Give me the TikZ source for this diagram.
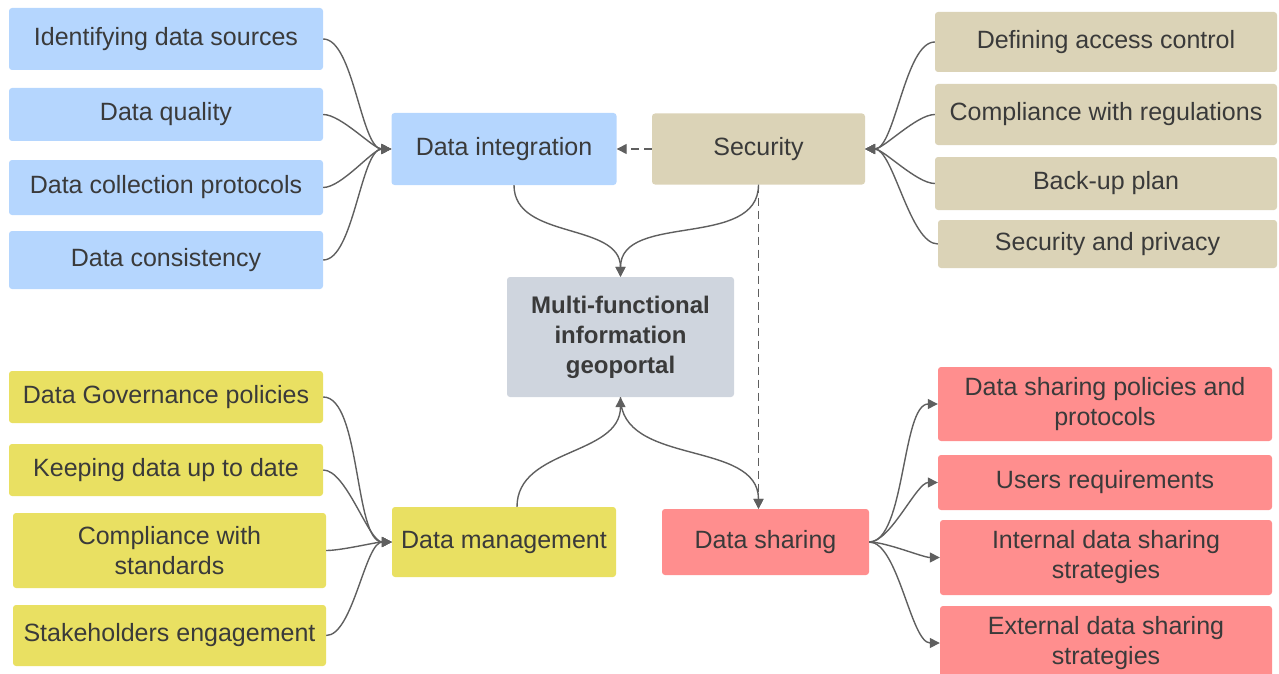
\documentclass[tikz,border=0pt]{standalone}
\usepackage{fontspec}
\setmainfont{Liberation Sans}
\usetikzlibrary{arrows.meta}
\definecolor{inkgray}{HTML}{3A3A3A}
\definecolor{linegray}{HTML}{5F5F5F}
\definecolor{blueFill}{HTML}{B5D6FE}
\definecolor{tanFill}{HTML}{DBD3B7}
\definecolor{coreFill}{HTML}{CFD5DE}
\definecolor{yellowFill}{HTML}{E9E062}
\definecolor{redFill}{HTML}{FF8E8E}
\tikzset{
  box/.style={rounded corners=3pt, inner sep=0pt, align=center, text=inkgray,
    font=\fontsize{25}{30}\selectfont},
  bluebox/.style={box, fill=blueFill},
  tanbox/.style={box, fill=tanFill},
  yellowbox/.style={box, fill=yellowFill},
  redbox/.style={box, fill=redFill},
  corebox/.style={box, fill=coreFill, font=\fontsize{24}{30}\selectfont\bfseries},
  link/.style={draw=linegray, line width=1.4pt, -{Triangle[length=10pt,width=10pt]}},
  dashlink/.style={link, dash pattern=on 8pt off 5pt},
  fan/.style={looseness=0.6},
}
\begin{document}
\begin{tikzpicture}[x=1pt, y=-1pt]
\useasboundingbox (0,0) rectangle (1279,674);

% data integration branch
\node[bluebox, minimum width=314, minimum height=62] (b1) at (166,39) {Identifying data sources};
\node[bluebox, minimum width=314, minimum height=53] (b2) at (166,114.5) {Data quality};
\node[bluebox, minimum width=314, minimum height=55] (b3) at (166,187.5) {Data collection protocols};
\node[bluebox, minimum width=314, minimum height=58] (b4) at (166,260) {Data consistency};
\node[bluebox, minimum width=225, minimum height=72] (di) at (504,149) {Data integration};

% security branch
\node[tanbox, minimum width=213, minimum height=71] (sec) at (758.5,149) {Security};
\node[tanbox, minimum width=342, minimum height=60] (t1) at (1106,42) {Defining access control};
\node[tanbox, minimum width=342, minimum height=61] (t2) at (1106,114.5) {Compliance with regulations};
\node[tanbox, minimum width=342, minimum height=53] (t3) at (1106,183.5) {Back-up plan};
\node[tanbox, minimum width=339, minimum height=48] (t4) at (1107.5,244) {Security and privacy};

% central node
\node[corebox, minimum width=227, minimum height=120] (core) at (620.5,337)
  {Multi-functional\\information\\geoportal};

% data management branch
\node[yellowbox, minimum width=314, minimum height=52] (y1) at (166,397) {Data Governance policies};
\node[yellowbox, minimum width=314, minimum height=52] (y2) at (166,470) {Keeping data up to date};
\node[yellowbox, minimum width=313, minimum height=75] (y3) at (169.5,550.5) {Compliance with\\standards};
\node[yellowbox, minimum width=313, minimum height=61] (y4) at (169.5,635.5) {Stakeholders engagement};
\node[yellowbox, minimum width=224, minimum height=70] (dm) at (504,542) {Data management};

% data sharing branch
\node[redbox, minimum width=207, minimum height=66] (ds) at (765.5,542) {Data sharing};
\node[redbox, minimum width=334, minimum height=74] (r1) at (1105,404) {Data sharing policies and\\protocols};
\node[redbox, minimum width=334, minimum height=55] (r2) at (1105,482.5) {Users requirements};
\node[redbox, minimum width=332, minimum height=75] (r3) at (1106,557.5) {Internal data sharing\\strategies};
\node[redbox, minimum width=332, minimum height=74] (r4) at (1106,643) {External data sharing\\strategies};

% feeders into data integration
\foreach \n in {b1,b2,b3,b4}
  \draw[link] (\n.east) to[out=0,in=180,fan] (di.west);

% feeders into security
\foreach \n in {t1,t2,t3,t4}
  \draw[link] (\n.west) to[out=180,in=0,fan] (sec.east);

% feeders into data management
\foreach \n in {y1,y2,y3,y4}
  \draw[link] (\n.east) to[out=0,in=180,fan] (dm.west);

% data sharing outputs
\foreach \n in {r1,r2,r3,r4}
  \draw[link] (ds.east) to[out=0,in=180,fan] (\n.west);

% links around the core
\draw[dashlink] (sec.west) -- (di.east);
\draw[link] ([xshift=10pt]di.south) to[out=-90,in=90] (core.north);
\draw[link] (sec.south) to[out=-90,in=90] (core.north);
\draw[link] ([xshift=13pt]dm.north) to[out=90,in=-90] (core.south);
\draw[link] (core.south) to[out=-90,in=90] (sec.south |- ds.north);
\draw[dashlink] (sec.south) -- (sec.south |- ds.north);
\end{tikzpicture}
\end{document}
